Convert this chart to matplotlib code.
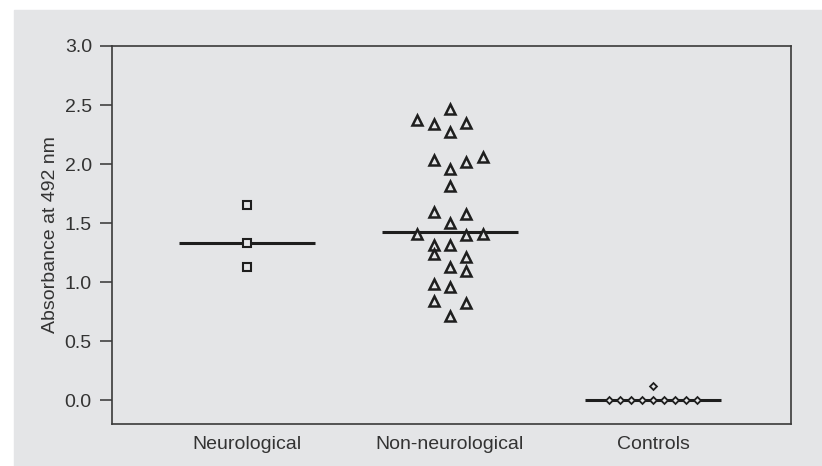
import matplotlib
matplotlib.use('Agg')
import matplotlib.pyplot as plt
from matplotlib.patches import Rectangle

# absorbance values
categories = ['Neurological', 'Non-neurological', 'Controls']

neuro_vals = [1.65, 1.33, 1.13]
nonneuro_vals = [2.47, 2.37, 2.34, 2.35, 2.27,
                 2.03, 1.96, 2.02, 2.06,
                 1.81,
                 1.59, 1.58, 1.50,
                 1.41, 1.40, 1.41,
                 1.31, 1.31, 1.24, 1.21, 1.13, 1.09,
                 0.98, 0.955, 0.84, 0.82, 0.71]
control_vals = [0.0, 0.0, 0.0, 0.0, 0.0, 0.0, 0.0, 0.0, 0.0, 0.12]

medians = [1.33, 1.42, 0.0]

# column slot of each point inside its group (dot plot layout)
neuro_slots = [0, 0, 0]
nonneuro_slots = [0, -2, -1, 1, 0,
                  -1, 0, 1, 2,
                  0,
                  -1, 1, 0,
                  -2, 1, 2,
                  -1, 0, -1, 1, 0, 1,
                  -1, 0, -1, 1, 0]
control_slots = [-4, -3, -2, -1, 0, 1, 2, 3, 4, 0]

bg = '#e4e5e7'
ink = '#333333'

plt.rcParams['font.family'] = ['Liberation Sans', 'DejaVu Sans']

fig = plt.figure(figsize=(8.22, 4.66), dpi=100)
fig.patch.set_facecolor('white')
fig.patches.append(Rectangle((14 / 822, 0), 1, (466 - 10) / 466,
                             transform=fig.transFigure, color=bg, zorder=-10))

ax = fig.add_axes([112 / 822, 42 / 466, 679 / 822, 378 / 466])
ax.set_facecolor(bg)

groups = [
    (neuro_vals, neuro_slots, 's', 5.4, 1.5, 0.08),
    (nonneuro_vals, nonneuro_slots, '^', 7.4, 1.8, 0.081),
    (control_vals, control_slots, 'D', 3.5, 1.3, 0.054),
]

for i, (vals, slots, mk, ms, mew, step) in enumerate(groups):
    pos = i + 1
    ax.plot([pos - 0.333, pos + 0.333], [medians[i], medians[i]],
            color='#1e1e1e', lw=2.2, zorder=2, solid_capstyle='butt')
    xs = [pos + s * step for s in slots]
    ax.plot(xs, vals, linestyle='none', marker=mk, markersize=ms,
            markerfacecolor=bg, markeredgecolor='#1e1e1e',
            markeredgewidth=mew, zorder=3)

ax.set_xlim(0.335, 3.68)
ax.set_ylim(-0.203, 3.0)
ax.set_xticks([1, 2, 3])
ax.set_xticklabels(categories)
ax.set_yticks([0.0, 0.5, 1.0, 1.5, 2.0, 2.5, 3.0])
ax.set_yticklabels(['%.1f' % v for v in [0.0, 0.5, 1.0, 1.5, 2.0, 2.5, 3.0]])

ax.tick_params(axis='x', length=0, pad=8.5, labelsize=14, labelcolor=ink)
ax.tick_params(axis='y', direction='out', length=9, width=1.1, color=ink,
               pad=5.5, labelsize=14, labelcolor=ink)

for sp in ax.spines.values():
    sp.set_color('#3a3a3a')
    sp.set_linewidth(1.2)

ax.set_ylabel('Absorbance at 492 nm', fontsize=14, color=ink, labelpad=4)

fig.savefig('out.png', dpi=100, facecolor=fig.get_facecolor())
